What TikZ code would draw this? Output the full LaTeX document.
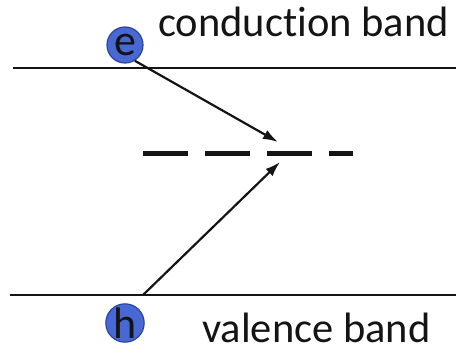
\documentclass[tikz,border=0pt]{standalone}
\usepackage{fontspec}
\setmainfont[Ligatures=NoCommon]{Carlito}
\usetikzlibrary{arrows.meta,positioning}
\definecolor{cbBlue}{RGB}{72,104,212}
\definecolor{cbEdge}{RGB}{44,66,160}
\definecolor{cbInk}{RGB}{20,20,20}

\begin{document}
\begin{tikzpicture}[x=1pt,y=-1pt,
  carrier/.style={circle,draw=cbEdge,line width=1.2pt,fill=cbBlue,minimum size=36pt,
                  inner sep=0pt,font=\fontsize{44}{44}\selectfont,text=cbInk},
  band/.style={line width=2.4pt,draw=cbInk},
  lbl/.style={anchor=base west,inner sep=0pt,font=\fontsize{42.5}{42.5}\selectfont,text=cbInk},
  arr/.style={-{Latex[length=15pt,width=10pt]},line width=2.2pt,draw=cbInk}]
\useasboundingbox (0,0) rectangle (456,356);
% bands
\coordinate (cbL) at (13,68);
\coordinate (cbR) at (456,68);
\coordinate (vbL) at (10,295);
\coordinate (vbR) at (456,295);
\draw[band] (cbL) -- (cbR);
\draw[band] (vbL) -- (vbR);
% trap level
\coordinate (trapL) at (143,153);
\coordinate (trapR) at (353,153);
\draw[line width=5pt,draw=cbInk,dash pattern=on 45pt off 17pt] (trapL) -- (trapR);
% labels
\node[lbl] (cbText) at (158,37) {conduction band};
\node[lbl] (vbText) at (202,342) {valence band};
% carriers
\node[carrier] (e) at (125,45) {e};
\node[carrier] (h) at (125,323) {h};
% capture
\coordinate (tipE) at (278,142);
\coordinate (tipH) at (280,162);
\coordinate (hStart) at (143,295);
\draw[arr] (e.-58) -- (tipE);
\draw[arr] (hStart) -- (tipH);
\end{tikzpicture}
\end{document}
